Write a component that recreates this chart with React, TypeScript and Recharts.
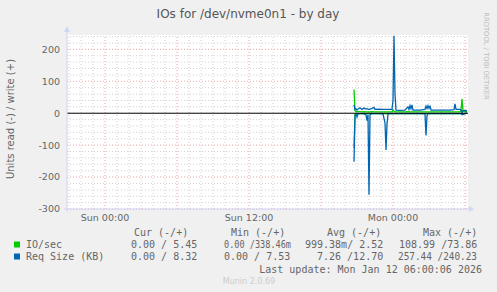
import {
  LineChart,
  Line,
  XAxis,
  YAxis,
  CartesianGrid,
  ReferenceLine,
} from 'recharts';

// minutes after Sun 00:00 (one pixel ~ 5 minutes in the original)
const TIMES = [
  1245, 1250, 1255, 1260, 1265, 1275, 1285, 1295, 1305, 1310, 1315, 1320, 1325,
  1335, 1345, 1350, 1370, 1390, 1400, 1405, 1410, 1415, 1435, 1440, 1445, 1450,
  1455, 1475, 1500, 1515, 1520, 1525, 1530, 1535, 1540, 1575, 1600, 1605, 1610,
  1615, 1620, 1625, 1630, 1675, 1725, 1745, 1750, 1755, 1775, 1780, 1785, 1790,
  1800, 1810,
];

const IO_WRITE = [
  74, 8, 5, 5, 5, 5, 4, 5, 4, 4, 4, 4, 4,
  5, 4, 4, 4, 4, 4, 4, 4, 4, 4, 10, 6, 4,
  4, 4, 4, 5, 4, 4, 4, 4, 4, 4, 4, 4, 4,
  4, 4, 4, 4, 4, 4, 4, 4, 4, 4, 8, 45, 6,
  5, 5,
];

const IO_READ = [
  -109, -3, -1, -1, -1, -1, -1, -1, -1, -2, -1, -1, -1,
  -1, -1, -1, -1, -1, -1, -2, -1, -1, -1, -1, -1, -1,
  -1, -1, -1, -1, -1, -1, -1, -1, -1, -1, -1, -2, -1,
  -1, -1, -1, -1, -1, -1, -1, -1, -1, -1, -1, -1, -1,
  -1, 0,
];

const SIZE_WRITE = [
  26, 12, 14, 10, 13, 17, 12, 16, 13, 14, 13, 12, 13,
  15, 18, 12, 13, 12, 12, 12, 12, 12, 12, 40, 243, 60,
  10, 9, 10, 20, 12, 24, 14, 26, 10, 10, 12, 22, 15,
  24, 16, 22, 10, 10, 10, 11, 29, 12, 12, 10, 2, 8,
  9, 8,
];

const SIZE_READ = [
  -152, -8, -3, -12, -2, -1, -1, -2, -5, -23, -4, -255, -5,
  -1, -1, -1, -1, -2, -30, -115, -35, -2, -1, -1, -1, -1,
  -1, -1, -1, -1, -1, -1, -1, -1, -1, -1, -2, -70, -8,
  -1, -1, -1, -1, -1, -1, -1, -1, -1, -1, -1, -4, -4,
  -1, 0,
];

const X_TICKS = [0, 720, 1440];
const X_TICK_LABELS = ['Sun 00:00', 'Sun 12:00', 'Mon 00:00'];
const Y_TICKS = [-300, -200, -100, 0, 100, 200];
const X_MAJOR = [0, 360, 720, 1080, 1440, 1800];
const Y_MAJOR = [-300, -200, -100, 100, 200];
const X_MINOR = Array.from({ length: 34 }, (_, i) => -180 + i * 60).filter((v) => v % 360 !== 0);
const Y_MINOR = Array.from({ length: 28 }, (_, i) => -300 + i * 20).filter((v) => v % 100 !== 0);

const data = TIMES.map((t, i) => ({
  t,
  ioWrite: IO_WRITE[i],
  ioRead: IO_READ[i],
  sizeWrite: SIZE_WRITE[i],
  sizeRead: SIZE_READ[i],
}));

const GREEN = '#00cc00';
const BLUE = '#0066b3';
const FONT = '#666';
const MONO = '"DejaVu Sans Mono", monospace';
const SANS = '"DejaVu Sans", sans-serif';

export default function App() {
  return (
    <div style={{ position: 'absolute', left: 0, top: 0, width: 497, height: 292, background: '#f0f0f0' }}>
      <LineChart width={497} height={292} data={data} margin={{ top: 35, right: 29, bottom: 0, left: 0 }}>
        <CartesianGrid fill="#ffffff" stroke="none" horizontal={false} vertical={false} />
        {X_MINOR.map((v) => (
          <ReferenceLine key={'xm' + v} x={v} stroke="#d2d2d2" strokeDasharray="1 2" />
        ))}
        {Y_MINOR.map((v) => (
          <ReferenceLine key={'ym' + v} y={v} stroke="#d2d2d2" strokeDasharray="1 2" />
        ))}
        {X_MAJOR.map((v) => (
          <ReferenceLine key={'xM' + v} x={v} stroke="#f0a0a0" strokeDasharray="1 2" />
        ))}
        {Y_MAJOR.map((v) => (
          <ReferenceLine key={'yM' + v} y={v} stroke="#f0a0a0" strokeDasharray="1 2" />
        ))}
        <XAxis
          type="number"
          dataKey="t"
          domain={[-190, 1815]}
          ticks={X_TICKS}
          tickFormatter={(v: number) => X_TICK_LABELS[X_TICKS.indexOf(v)]}
          allowDataOverflow
          height={83}
          axisLine={false}
          tickLine={false}
          tickSize={3}
          tickMargin={2}
          tick={{ fill: FONT, fontSize: 9.5, fontFamily: SANS }}
        />
        <YAxis
          type="number"
          domain={[-300, 245]}
          ticks={Y_TICKS}
          allowDataOverflow
          width={67}
          axisLine={false}
          tickLine={false}
          tickSize={5}
          tickMargin={2}
          tick={{ fill: FONT, fontSize: 9.5, fontFamily: SANS }}
        />
        <Line dataKey="ioRead" stroke={GREEN} strokeWidth={1.3} dot={false} activeDot={false} isAnimationActive={false} />
        <Line dataKey="ioWrite" stroke={GREEN} strokeWidth={1.3} dot={false} activeDot={false} isAnimationActive={false} />
        <Line dataKey="sizeRead" stroke={BLUE} strokeWidth={1.3} dot={false} activeDot={false} isAnimationActive={false} />
        <Line dataKey="sizeWrite" stroke={BLUE} strokeWidth={1.3} dot={false} activeDot={false} isAnimationActive={false} />
        <ReferenceLine y={0} stroke="#000" strokeWidth={1} />
      </LineChart>

      <svg width={497} height={292} style={{ position: 'absolute', left: 0, top: 0, pointerEvents: 'none' }}>
        <text x={248} y={18} textAnchor="middle" fill="#555" fontSize={12} fontFamily={SANS}>
          IOs for /dev/nvme0n1 - by day
        </text>
        <text
          x={10}
          y={119}
          transform="rotate(-90 10 119)"
          textAnchor="middle"
          dominantBaseline="central"
          fill={FONT}
          fontSize={10}
          fontFamily={SANS}
        >
          Units read (-) / write (+)
        </text>
        <text
          x={486}
          y={56}
          transform="rotate(90 486 56)"
          textAnchor="middle"
          dominantBaseline="central"
          fill="#bbb"
          fontSize={6.8}
          fontFamily={SANS}
        >
          RRDTOOL / TOBI OETIKER
        </text>

        {/* axes with arrows */}
        <line x1={67} y1={31} x2={67} y2={212} stroke="#cfd6f8" />
        <line x1={64} y1={209} x2={470} y2={209} stroke="#cfd6f8" />
        <polygon points="64,32 70,32 67,26" fill="#cfd6f8" />
        <polygon points="469,206 469,212 474,209" fill="#cfd6f8" />

        <g fontFamily={MONO} fontSize={10} fill={FONT}>
          <text x={134} y={236}>Cur (-/+)</text>
          <text x={231} y={236}>Min (-/+)</text>
          <text x={327} y={236}>Avg (-/+)</text>
          <text x={423} y={236}>Max (-/+)</text>

          <rect x={14} y={241.5} width={6} height={6} fill={GREEN} />
          <text x={26} y={248}>IO/sec</text>
          <text x={131} y={248}>0.00 / 5.45</text>
          <text x={224} y={248} textLength={67} lengthAdjust="spacingAndGlyphs">0.00 /338.46m</text>
          <text x={305} y={248}>999.38m/ 2.52</text>
          <text x={399} y={248}>108.99 /73.86</text>

          <rect x={14} y={253.5} width={6} height={6} fill={BLUE} />
          <text x={26} y={260}>Req Size (KB)</text>
          <text x={131} y={260}>0.00 / 8.32</text>
          <text x={224} y={260}>0.00 / 7.53</text>
          <text x={317} y={260}>7.26 /12.70</text>
          <text x={398} y={260} textLength={79} lengthAdjust="spacingAndGlyphs">257.44 /240.23</text>

          <text x={482} y={272.5} textAnchor="end">Last update: Mon Jan 12 06:00:06 2026</text>
        </g>
        <text x={249} y={284} textAnchor="middle" fill="#ccc" fontSize={8} fontFamily={SANS}>
          Munin 2.0.69
        </text>
      </svg>
    </div>
  );
}
